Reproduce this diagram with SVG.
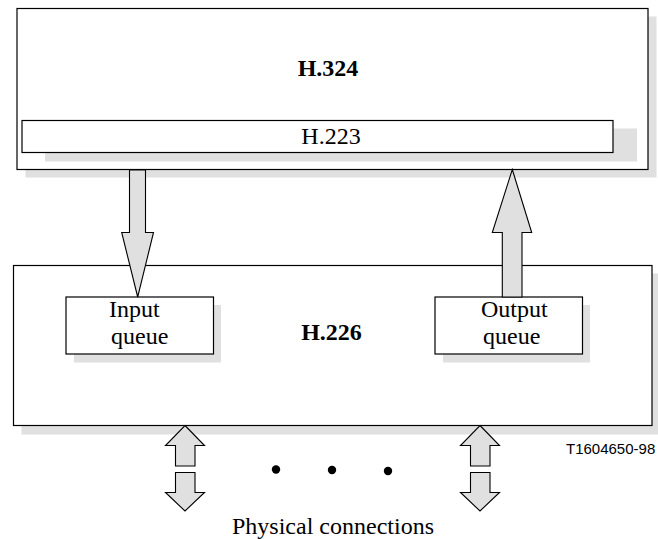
<svg xmlns="http://www.w3.org/2000/svg" width="658" height="539" viewBox="0 0 658 539">
<style>
.shadow{fill:#e0e0e0;stroke:none}
.box{fill:#ffffff;stroke:#000000;stroke-width:1.2}
.arrow{fill:#e0e0e0;stroke:#000000;stroke-width:1.1;stroke-linejoin:miter}
.serif{font-family:"Liberation Serif","Times New Roman",serif;font-size:24px;fill:#000}
.bold{font-weight:bold}
.sans{font-family:"Liberation Sans",Arial,sans-serif;font-size:15px;fill:#000}
</style>
<rect width="658" height="539" fill="#ffffff"/>
<g id="h324">
  <rect class="shadow" x="25.5" y="16.5" width="631" height="161"/>
  <rect class="box" x="17" y="8.5" width="631" height="161"/>
  <text class="serif bold" x="328" y="76" text-anchor="middle">H.324</text>
</g>
<g id="h223">
  <rect class="shadow" x="45" y="128.5" width="592" height="33"/>
  <rect class="box" x="22" y="120.5" width="591" height="32"/>
  <text class="serif" x="331" y="143.5" text-anchor="middle">H.223</text>
</g>
<g id="h226">
  <rect class="shadow" x="21.5" y="273.5" width="639" height="161"/>
  <rect class="box" x="13.5" y="265.5" width="638.5" height="160"/>
  <text class="serif bold" x="331.5" y="340" text-anchor="middle">H.226</text>
</g>
<g id="input-queue">
  <rect class="shadow" x="74" y="305" width="147" height="57.5"/>
  <rect class="box" x="66" y="297" width="147.5" height="57"/>
  <text class="serif" x="109" y="317">Input</text>
  <text class="serif" x="111" y="344">queue</text>
</g>
<g id="output-queue">
  <rect class="shadow" x="443" y="305" width="147" height="57.5"/>
  <rect class="box" x="435" y="297" width="147.5" height="57"/>
  <text class="serif" x="481" y="317">Output</text>
  <text class="serif" x="483" y="344">queue</text>
</g>
<g id="connectors">
  <polygon class="arrow" points="129.5,170 145.5,170 145.5,232.5 153.5,232.5 137.7,297 121.7,232.5 129.5,232.5"/>
  <polygon class="arrow" points="512.3,169.5 531.7,232.5 522,232.5 522,297 502.3,297 502.3,232.5 492.3,232.5"/>
  <polygon class="arrow" points="185,425.5 204.5,445.5 195,445.5 195,466 175.5,466 175.5,445.5 165.5,445.5"/>
  <polygon class="arrow" points="175.5,472.5 195,472.5 195,492.5 204.5,492.5 185,511 165.5,492.5 175.5,492.5"/>
  <polygon class="arrow" points="480,425.5 499.5,445.5 490,445.5 490,466 470.5,466 470.5,445.5 460.5,445.5"/>
  <polygon class="arrow" points="470.5,472.5 490,472.5 490,492.5 499.5,492.5 480,511 460.5,492.5 470.5,492.5"/>
</g>
<g id="dots">
  <circle cx="276" cy="469.5" r="4.2"/>
  <circle cx="332" cy="470" r="4.2"/>
  <circle cx="388" cy="471" r="4.2"/>
</g>
<g id="labels">
  <text class="serif" x="333" y="534" text-anchor="middle">Physical connections</text>
  <text class="sans" x="566" y="454">T1604650-98</text>
</g>
</svg>
